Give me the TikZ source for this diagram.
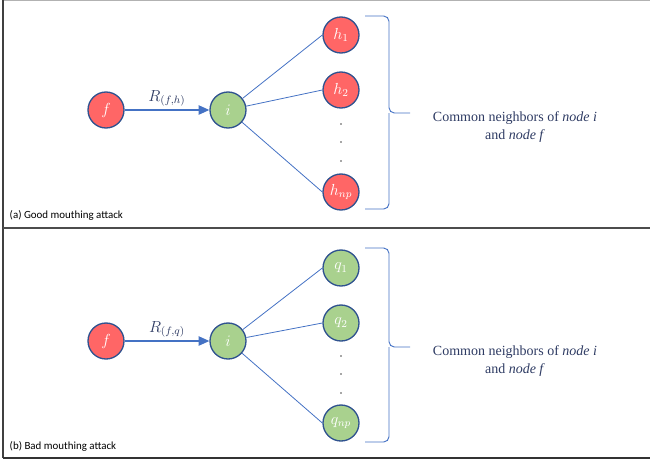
\documentclass[tikz,border=0pt]{standalone}
\usepackage{fontspec}
\setmainfont{Liberation Serif}
\newfontfamily\labelfont{Carlito}
\usetikzlibrary{arrows.meta}

\definecolor{nodered}{HTML}{FF6666}
\definecolor{nodegreen}{HTML}{A9D18E}
\definecolor{rimblue}{HTML}{2F528F}
\definecolor{linkblue}{HTML}{4472C4}
\definecolor{textnavy}{HTML}{2E3B63}

\tikzset{
  peer/.style={circle, draw=rimblue, line width=1pt, minimum size=27pt, inner sep=0pt, text=white, font=\large},
  bad/.style={peer, fill=nodered},
  good/.style={peer, fill=nodegreen},
  link/.style={draw=linkblue, line width=0.6pt},
  rating/.style={link, line width=0.9pt, -{Triangle[length=8pt,width=7pt]}},
  brace/.style={draw=linkblue, line width=0.7pt, rounded corners=4pt},
  vdot/.style={circle, fill=black!70, inner sep=0.5pt},
}

\begin{document}
\begin{tikzpicture}[x=0.75pt, y=-0.75pt]
  \useasboundingbox (0,0) rectangle (650,461);
  % frame
  \draw[gray!60, line width=1pt] (3,0.5) -- (650,0.5);
  \draw[black!75, line width=1.5pt] (3,0) -- (3,458);
  \draw[black!70, line width=1.2pt] (3,228) -- (650,228);
  \draw[black!80, line width=1.5pt] (3,458) -- (650,458);

  % (a) good mouthing
  \node[bad]  (fa)  at (106,110) {$f$};
  \node[good] (ia)  at (228,110) {$i$};
  \node[bad]  (h1)  at (341,35)  {$h_1$};
  \node[bad]  (h2)  at (341,90)  {$h_2$};
  \node[bad]  (hnp) at (341,192) {$h_{np}$};
  \node[vdot] (ha1) at (341,124) {};
  \node[vdot] (ha2) at (341,142) {};
  \node[vdot] (ha3) at (341,161) {};

  \path (fa) edge[rating] node[above, text=textnavy, yshift=-1pt, font=\large] {$R_{(f,h)}$} (ia);
  \path (ia) edge[link] (h1.west);
  \path (ia) edge[link] (h2.west);
  \path (ia) edge[link] (hnp.west);

  \draw[brace] (365,16) -- (389,16) -- (389,113) -- (410,113);
  \draw[brace] (365,209) -- (389,209) -- (389,113);
  \node[align=center, text=textnavy, font=\fontsize{10.5}{13}\selectfont] (ca) at (515,127)
    {Common neighbors of \textit{node i}\\and \textit{node f}};
  \node[anchor=west, font=\labelfont\fontsize{8.2}{10}\selectfont] (la) at (5,215) {(a) Good mouthing attack};

  % (b) bad mouthing
  \node[bad]  (fb)  at (106,341) {$f$};
  \node[good] (ib)  at (228,341) {$i$};
  \node[good] (q1)  at (341,268) {$q_1$};
  \node[good] (q2)  at (341,323) {$q_2$};
  \node[good] (qnp) at (341,423) {$q_{np}$};
  \node[vdot] (qa1) at (341,356) {};
  \node[vdot] (qa2) at (341,374) {};
  \node[vdot] (qa3) at (341,393) {};

  \path (fb) edge[rating] node[above, text=textnavy, yshift=-1pt, font=\large] {$R_{(f,q)}$} (ib);
  \path (ib) edge[link] (q1.west);
  \path (ib) edge[link] (q2.west);
  \path (ib) edge[link] (qnp.west);

  \draw[brace] (365,248) -- (389,248) -- (389,347) -- (410,347);
  \draw[brace] (365,442) -- (389,442) -- (389,347);
  \node[align=center, text=textnavy, font=\fontsize{10.5}{13}\selectfont] (cb) at (515,361)
    {Common neighbors of \textit{node i}\\and \textit{node f}};
  \node[anchor=west, font=\labelfont\fontsize{8.2}{10}\selectfont] (lb) at (5,446) {(b) Bad mouthing attack};
\end{tikzpicture}
\end{document}
